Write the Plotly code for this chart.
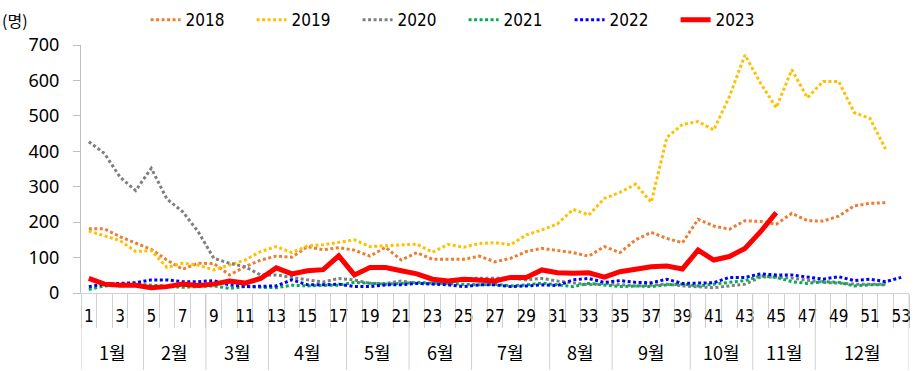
import plotly.graph_objects as go

weeks = list(range(1, 54))

y2018 = [181, 181, 159, 140, 123, 93, 67, 84, 83, 51, 74, 93, 104, 101, 131, 122, 128, 121, 104, 129,
         93, 114, 95, 95, 95, 104, 88, 98, 117, 126, 119, 114, 104, 131, 114, 150, 171, 154, 142, 208,
         189, 180, 204, 202, 194, 225, 204, 203, 217, 246, 253, 255, None]
y2019 = [175, 161, 148, 117, 120, 72, 84, 79, 65, 79, 93, 117, 131, 114, 133, 136, 142, 150, 131, 133,
         136, 138, 115, 137, 129, 140, 142, 136, 164, 178, 195, 236, 220, 267, 284, 307, 256, 439, 476, 484,
         460, 554, 672, 592, 523, 630, 551, 597, 597, 509, 493, 406, None]
y2020 = [427, 394, 327, 289, 352, 265, 230, 173, 98, 84, 74, 51, 51, 43, 37, 31, 41, 37, 27, 27,
         34, 27, 28, 27, 41, 41, 41, 42, 37, 41, 34, 28, 23, 27, 23, 20, 22, 25, 20, 18,
         15, 20, 25, 45, 45, 42, 35, 30, 28, 25, 25, 25, None]
y2021 = [10, 20, 22, 25, 22, 18, 16, 18, 20, 13, 18, 16, 15, 22, 20, 22, 22, 30, 27, 25,
         27, 30, 28, 27, 25, 23, 25, 20, 23, 28, 23, 18, 27, 23, 18, 20, 18, 23, 25, 20,
         25, 32, 35, 48, 44, 32, 27, 32, 30, 20, 23, 23, None]
y2022 = [18, 25, 27, 29, 37, 37, 32, 32, 35, 23, 18, 20, 20, 37, 23, 23, 25, 18, 18, 23,
         23, 27, 25, 23, 18, 23, 23, 18, 20, 23, 21, 37, 41, 30, 35, 30, 29, 39, 27, 27,
         29, 44, 44, 54, 51, 51, 46, 39, 46, 35, 39, 32, 44]
y2023 = [41, 25, 22, 22, 15, 18, 25, 21, 25, 34, 28, 41, 71, 54, 63, 66, 105, 51, 72, 72,
         63, 54, 39, 34, 39, 36, 34, 44, 44, 65, 57, 56, 57, 45, 60, 67, 74, 76, 68, 121,
         93, 103, 126, 173, 227]

week_tick_vals = list(range(1, 54, 2))
week_tick_text = [str(w) for w in week_tick_vals]

month_labels = ['1월', '2월', '3월', '4월', '5월', '6월', '7월', '8월', '9월', '10월', '11월', '12월']
month_week_counts = [4, 4, 4, 5, 4, 4, 5, 4, 5, 4, 4, 6]

y_ticks = [0, 100, 200, 300, 400, 500, 600, 700]

series = [
    ('2018', y2018, '#ED7D31', 'dot', 3),
    ('2019', y2019, '#FFC000', 'dot', 3),
    ('2020', y2020, '#7F7F7F', 'dot', 3),
    ('2021', y2021, '#00B050', 'dot', 3),
    ('2022', y2022, '#0000FF', 'dot', 3),
    ('2023', y2023, '#FF0000', 'solid', 5),
]

NARROW = "DejaVu Sans Condensed, DejaVu Sans, sans-serif"
KR = "Noto Sans CJK KR, Noto Sans, sans-serif"

fig = go.Figure()
for name, ys, color, dash, w in series:
    fig.add_trace(go.Scatter(
        x=weeks[:len(ys)], y=ys, name=name, mode='lines',
        line=dict(color=color, width=w, dash=('3px,2.5px' if dash == 'dot' else 'solid')),
    ))

# month boundaries and labels
bounds = [0.5]
for c in month_week_counts:
    bounds.append(bounds[-1] + c)
for b in bounds:
    fig.add_shape(type='line', xref='x', yref='paper', x0=b, x1=b, y0=0, y1=-0.31,
                  line=dict(color='#d0d0d0', width=1))
for i, lab in enumerate(month_labels):
    cx = (bounds[i] + bounds[i + 1]) / 2
    fig.add_annotation(x=cx, y=-0.238, xref='x', yref='paper', text=lab, showarrow=False,
                       font=dict(family=KR, size=18, color='#000'), yanchor='middle')

fig.add_annotation(x=-0.098, y=1.101, xref='paper', yref='paper', text='(명)', showarrow=False,
                   xanchor='left', yanchor='middle', font=dict(family=KR, size=16, color='#000'))

fig.update_layout(
    width=924, height=371,
    margin=dict(l=81, r=15, t=45, b=78, autoexpand=False),
    plot_bgcolor='white', paper_bgcolor='white',
    showlegend=True,
    legend=dict(orientation='h', x=0.078, y=1.10, xanchor='left', yanchor='middle',
                font=dict(family=NARROW, size=17, color='#000'),
                entrywidth=61, tracegroupgap=0, bgcolor='rgba(0,0,0,0)'),
    xaxis=dict(
        type='linear', range=[0.5, 53.5], automargin=False,
        tickmode='array', tickvals=week_tick_vals, ticktext=week_tick_text,
        ticks='', showgrid=False, zeroline=False,
        showline=True, linecolor='#d0d0d0', linewidth=1,
        tickfont=dict(family=NARROW, size=17, color='#000'),
        ticklabelstandoff=8,
        minor=dict(tickmode='array', tickvals=[x + 0.5 for x in range(0, 54)],
                   ticks='outside', ticklen=34, tickcolor='#d0d0d0', tickwidth=1, showgrid=False),
    ),
    yaxis=dict(
        range=[0, 700], tickmode='array', tickvals=y_ticks, automargin=False,
        ticks='outside', ticklen=7, tickcolor='#bfbfbf',
        showline=True, linecolor='#bfbfbf', linewidth=1,
        showgrid=False, zeroline=False,
        tickfont=dict(family="Noto Sans, sans-serif", size=18, color='#000'),
        ticklabelstandoff=10,
    ),
)

fig.write_html("out.html", config={'displayModeBar': False},
               post_script="document.body.style.margin='0';document.body.style.overflow='hidden';")
